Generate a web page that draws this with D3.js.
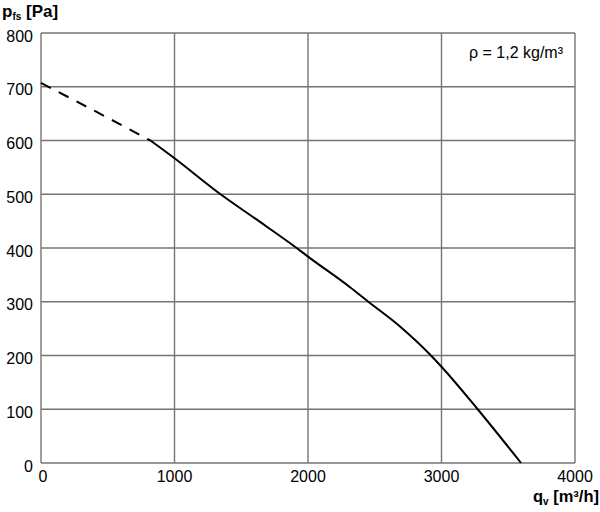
<!DOCTYPE html>
<html>
<head>
<meta charset="utf-8">
<script src="https://cdn.jsdelivr.net/npm/d3@7"></script>
<style>
  body { margin: 0; background: #fff; }
  svg { font-family: "Liberation Sans", Arial, sans-serif; }
</style>
</head>
<body>
<svg id="grafiek" width="600" height="512"></svg>
<script>
// ticks
var xTicks = [0, 1000, 2000, 3000, 4000];
var yTicks = [0, 100, 200, 300, 400, 500, 600, 700, 800];

// gestippeld deel van de kromme [qv, pfs]
var dashedCurve = [[0, 707], [410, 654], [820, 600]];
// doorgetrokken deel van de kromme
var solidCurve = [
    [820, 600], [1000, 567], [1345, 500], [1603, 455], [1915, 400],
    [2000, 384], [2315, 327], [2452, 300], [2689, 254], [2921, 200],
    [3000, 179], [3271, 100], [3596, 0]
];

var svg = d3.select('#grafiek');

//schalen
var x = d3.scaleLinear().domain([0, 4000]).range([41, 575]);
var y = d3.scaleLinear().domain([0, 800]).range([463, 33]);

// raster
svg.append('g')
    .selectAll('line')
    .data(xTicks)
    .join('line')
    .attr('x1', d => x(d)).attr('x2', d => x(d))
    .attr('y1', y(0)).attr('y2', y(800))
    .attr('stroke', '#747474')
    .attr('stroke-width', 1.4);

svg.append('g')
    .selectAll('line')
    .data(yTicks)
    .join('line')
    .attr('x1', x(0)).attr('x2', x(4000))
    .attr('y1', d => y(d)).attr('y2', d => y(d))
    .attr('stroke', '#747474')
    .attr('stroke-width', 1.4);

// labels y-as
svg.append('g')
    .selectAll('text')
    .data(yTicks)
    .join('text')
    .attr('x', 33)
    .attr('y', d => y(d) + 8.5)
    .attr('text-anchor', 'end')
    .attr('font-size', 16)
    .text(d => d);

// labels x-as
svg.append('g')
    .selectAll('text')
    .data(xTicks)
    .join('text')
    .attr('x', d => d === 0 ? x(d) + 2 : x(d))
    .attr('y', 482)
    .attr('text-anchor', 'middle')
    .attr('font-size', 16)
    .text(d => d);

// kromme
var line = d3.line()
    .x(d => x(d[0]))
    .y(d => y(d[1]))
    .curve(d3.curveMonotoneX);

svg.append('path')
    .datum(dashedCurve)
    .attr('d', line)
    .attr('fill', 'none')
    .attr('stroke', '#000')
    .attr('stroke-width', 2)
    .attr('stroke-dasharray', '11,9');

svg.append('path')
    .datum(solidCurve)
    .attr('d', line)
    .attr('fill', 'none')
    .attr('stroke', '#000')
    .attr('stroke-width', 2);

// as-titels
var yTitle = svg.append('text')
    .attr('x', 2)
    .attr('y', 17)
    .attr('font-size', 17)
    .attr('font-weight', 'bold');
yTitle.append('tspan').text('p');
yTitle.append('tspan').attr('font-size', 10).attr('dy', 3).text('fs');
yTitle.append('tspan').attr('dy', -3).text(' [Pa]');

var xTitle = svg.append('text')
    .attr('x', 599)
    .attr('y', 502)
    .attr('text-anchor', 'end')
    .attr('font-size', 16.5)
    .attr('font-weight', 'bold');
xTitle.append('tspan').text('q');
xTitle.append('tspan').attr('font-size', 10).attr('dy', 3).text('v');
xTitle.append('tspan').attr('dy', -3).text(' [m³/h]');

// dichtheid
svg.append('text')
    .attr('x', 563)
    .attr('y', 58)
    .attr('text-anchor', 'end')
    .attr('font-size', 16)
    .text('ρ = 1,2 kg/m³');
</script>
</body>
</html>
